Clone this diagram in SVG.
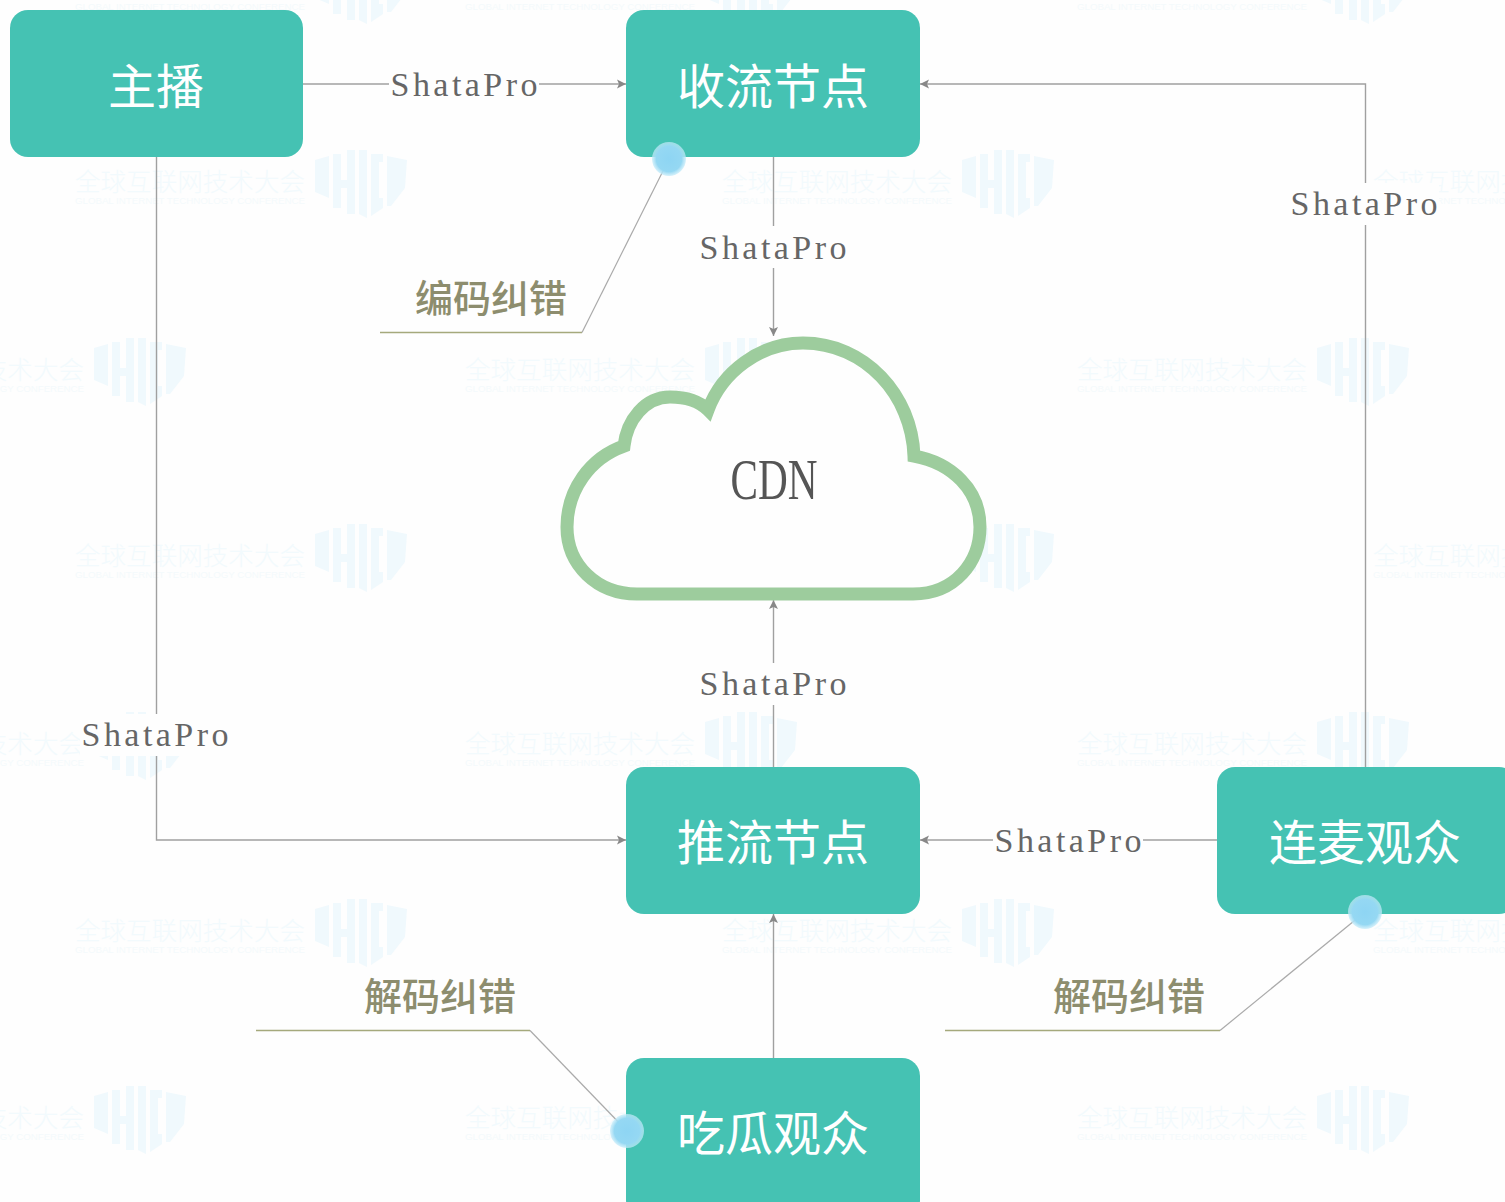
<svg xmlns="http://www.w3.org/2000/svg" xmlns:xlink="http://www.w3.org/1999/xlink" width="1505" height="1202" viewBox="0 0 1505 1202">
<style>
.node{fill:#45c2b3}
.nt{font-family:"Noto Sans CJK SC","Noto Sans",sans-serif;font-size:48px;fill:#fff;text-anchor:middle;font-weight:400}
.sp{font-family:"Liberation Serif",serif;font-size:34px;fill:#666;text-anchor:middle}
.lb{fill:#fefefe}
.call{font-family:"Noto Sans CJK SC",sans-serif;font-size:38px;fill:#8d8d6e;text-anchor:middle;font-weight:500}
.conn{fill:none;stroke:#a0a0a0;stroke-width:1.4;marker-end:url(#arrow)}
.hl{fill:none;stroke:#a5a97c;stroke-width:1.5}
.dg{fill:none;stroke:#aaa;stroke-width:1.2}
.wm1{font-family:"Noto Sans CJK SC",sans-serif;font-size:25.5px;fill:#f2fafd;font-weight:300}
.wm2{font-family:"Liberation Sans",sans-serif;font-size:9px;fill:#f4fafc}
.wms{fill:#f0f9fd}
</style>
<defs>
<marker id="arrow" markerWidth="10" markerHeight="10" refX="9" refY="5" orient="auto" markerUnits="userSpaceOnUse"><path d="M0 0.5L9 5L0 9.5L2 5Z" fill="#888"/></marker>
<radialGradient id="dot"><stop offset="0" stop-color="#8ed5f3"/><stop offset="0.75" stop-color="#95d8f3"/><stop offset="1" stop-color="#c4ebf9" stop-opacity="0.7"/></radialGradient>
<g id="wm">
<text class="wm1" x="0" y="0" textLength="230" lengthAdjust="spacingAndGlyphs">全球互联网技术大会</text>
<text class="wm2" x="0" y="13" textLength="230" lengthAdjust="spacingAndGlyphs">GLOBAL INTERNET TECHNOLOGY CONFERENCE</text>
<path class="wms" d="M240 -31L254 -35V7L240 1ZM258 -37H266V-11H272V-41H280V23H272V-3H266V17H258ZM284 -41H292V27L284 23ZM296 -37H308V-29H304V7H308V17L296 25ZM312 -35L332 -31L330 -3L316 15H312Z"/>
</g>
</defs>
<rect width="1505" height="1202" fill="#fefefe"/>
<g id="watermarks">
<use xlink:href="#wm" href="#wm" x="75" y="-3"/>
<use xlink:href="#wm" href="#wm" x="465" y="-3"/>
<use xlink:href="#wm" href="#wm" x="1077" y="-3"/>
<use xlink:href="#wm" href="#wm" x="75" y="191"/>
<use xlink:href="#wm" href="#wm" x="722" y="191"/>
<use xlink:href="#wm" href="#wm" x="1373" y="191"/>
<use xlink:href="#wm" href="#wm" x="-146" y="379"/>
<use xlink:href="#wm" href="#wm" x="465" y="379"/>
<use xlink:href="#wm" href="#wm" x="1077" y="379"/>
<use xlink:href="#wm" href="#wm" x="75" y="565"/>
<use xlink:href="#wm" href="#wm" x="722" y="565"/>
<use xlink:href="#wm" href="#wm" x="1373" y="565"/>
<use xlink:href="#wm" href="#wm" x="-146" y="753"/>
<use xlink:href="#wm" href="#wm" x="465" y="753"/>
<use xlink:href="#wm" href="#wm" x="1077" y="753"/>
<use xlink:href="#wm" href="#wm" x="75" y="940"/>
<use xlink:href="#wm" href="#wm" x="722" y="940"/>
<use xlink:href="#wm" href="#wm" x="1373" y="940"/>
<use xlink:href="#wm" href="#wm" x="-146" y="1127"/>
<use xlink:href="#wm" href="#wm" x="465" y="1127"/>
<use xlink:href="#wm" href="#wm" x="1077" y="1127"/>
</g>
<g id="connectors">
<path class="conn" d="M303 84H626"/>
<path class="conn" d="M1365.500 767V84H920"/>
<path class="conn" d="M773.500 157V336"/>
<path class="conn" d="M773.500 767V600"/>
<path class="conn" d="M156.500 157V840H626"/>
<path class="conn" d="M1217 840H920"/>
<path class="conn" d="M773.500 1058V914"/>
</g>
<g id="callouts">
<path class="hl" d="M380 332.500H582"/><path class="dg" d="M582 332.500L669 159"/>
<path class="hl" d="M256 1030.500H530"/><path class="dg" d="M530 1030.500L627 1131"/>
<path class="hl" d="M945 1030.500H1220"/><path class="dg" d="M1220 1030.500L1365 912"/>
<text class="call" x="491" y="312">编码纠错</text>
<text class="call" x="440" y="1010">解码纠错</text>
<text class="call" x="1129" y="1010">解码纠错</text>
</g>
<g id="cdn">
<path d="M637 594H913C955 594 980 562 980 527C980 490 952 463 914 456C912 395 865 343 803 343C760 343 722 372 708 410C698 400 685 397 670 397C645 397 627 420 624 446C590 458 567 490 567 527C567 565 597 594 637 594Z" fill="#fefefe" stroke="#9dcc9d" stroke-width="13" stroke-miterlimit="6"/>
<text x="774" y="499" font-family="'Liberation Serif',serif" font-size="58" fill="#555" text-anchor="middle" textLength="87" lengthAdjust="spacingAndGlyphs">CDN</text>
</g>
<g id="labels">
<rect class="lb" x="389" y="70" width="150" height="30"/><text class="sp" x="464" y="96" textLength="147">ShataPro</text>
<rect class="lb" x="698" y="226" width="150" height="42"/><text class="sp" x="773" y="259" textLength="147">ShataPro</text>
<rect class="lb" x="1289" y="183" width="150" height="42"/><text class="sp" x="1364" y="215" textLength="147">ShataPro</text>
<rect class="lb" x="80" y="714" width="150" height="42"/><text class="sp" x="155" y="746" textLength="147">ShataPro</text>
<rect class="lb" x="698" y="663" width="150" height="42"/><text class="sp" x="773" y="695" textLength="147">ShataPro</text>
<rect class="lb" x="993" y="826" width="150" height="30"/><text class="sp" x="1068" y="852" textLength="147">ShataPro</text>
</g>
<g id="node-zhubo"><rect class="node" x="10" y="10" width="293" height="147" rx="18"/><text class="nt" x="156" y="104">主播</text></g>
<g id="node-shouliu"><rect class="node" x="626" y="10" width="294" height="147" rx="18"/><text class="nt" x="773" y="104">收流节点</text></g>
<g id="node-tuiliu"><rect class="node" x="626" y="767" width="294" height="147" rx="18"/><text class="nt" x="773" y="860">推流节点</text></g>
<g id="node-lianmai"><rect class="node" x="1217" y="767" width="300" height="147" rx="18"/><text class="nt" x="1365" y="860">连麦观众</text></g>
<g id="node-chigua"><rect class="node" x="626" y="1058" width="294" height="160" rx="18"/><text class="nt" x="773" y="1151">吃瓜观众</text></g>
<g id="dots">
<circle cx="669" cy="159" r="17" fill="url(#dot)"/>
<circle cx="1365" cy="912" r="17" fill="url(#dot)"/>
<circle cx="627" cy="1131" r="17" fill="url(#dot)"/>
</g>
</svg>
